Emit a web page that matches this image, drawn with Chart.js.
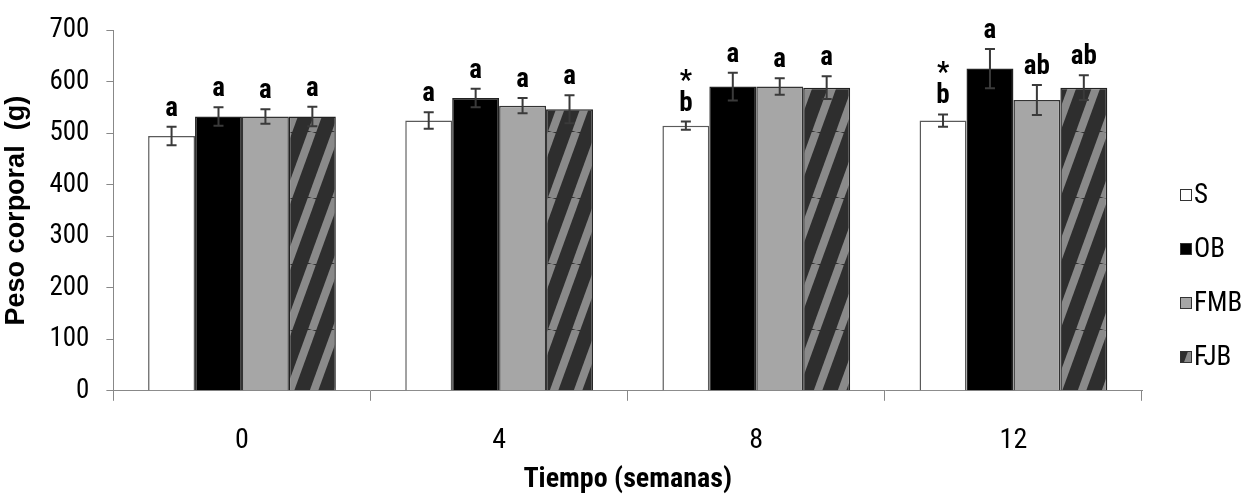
<!DOCTYPE html>
<html>
<head>
<meta charset="utf-8">
<script src="https://cdn.jsdelivr.net/npm/chart.js@4.4.1/dist/chart.umd.min.js"></script>
<style>
html, body { margin: 0; padding: 0; background: #fff; }
</style>
</head>
<body>
<canvas id="barChart" width="1251" height="497"></canvas>
<script>
// semanas
const weeks = ['0', '4', '8', '12'];
const groups = ['S', 'OB', 'FMB', 'FJB'];

// peso corporal medio (g)
const valS   = [495, 525, 515, 525];
const valOB  = [533, 569, 591, 626];
const valFMB = [533, 554, 591, 565];
const valFJB = [533, 547, 589, 589];

// error estandar
const errS   = [18, 16, 8, 12];
const errOB  = [18, 18, 27, 38];
const errFMB = [14, 15, 16, 29];
const errFJB = [19, 27, 22, 24];

// letras de significancia
const letS   = ['a', 'a', 'b', 'b'];
const starS  = ['', '', '*', '*'];
const letOB  = ['a', 'a', 'a', 'a'];
const letFMB = ['a', 'a', 'a', 'ab'];
const letFJB = ['a', 'a', 'a', 'ab'];

const yTicks = [0, 100, 200, 300, 400, 500, 600, 700];

const narrow = "'Roboto Condensed', 'Liberation Sans Narrow', sans-serif";
const wide = "'Liberation Sans', Arial, sans-serif";

// rayas diagonales para FJB
function stripes() {
    const c = document.createElement('canvas');
    c.width = 24; c.height = 66;
    const g = c.getContext('2d');
    g.fillStyle = '#2e2e2e';
    g.fillRect(0, 0, 24, 66);
    g.strokeStyle = '#8a8a8a';
    g.lineWidth = 8;
    for (let k = -1; k <= 1; k++) {
        g.beginPath();
        g.moveTo(k * 24, 66);
        g.lineTo(k * 24 + 24, 0);
        g.stroke();
    }
    return document.getElementById('barChart').getContext('2d').createPattern(c, 'repeat');
}
const fjbFill = stripes();

const errs = [errS, errOB, errFMB, errFJB];
const lets = [letS, letOB, letFMB, letFJB];
const stars = [starS, [], [], []];

const errorBars = {
    id: 'errorBars',
    afterDatasetsDraw(chart) {
        const ctx = chart.ctx;
        const y = chart.scales.y;
        ctx.save();
        chart.data.datasets.forEach((ds, i) => {
            const meta = chart.getDatasetMeta(i);
            meta.data.forEach((bar, j) => {
                const v = ds.data[j];
                const top = y.getPixelForValue(v + errs[i][j]);
                const bot = y.getPixelForValue(v - errs[i][j]);
                ctx.strokeStyle = '#3a3a3a';
                ctx.lineWidth = 2;
                ctx.beginPath();
                ctx.moveTo(bar.x, top); ctx.lineTo(bar.x, bot);
                ctx.moveTo(bar.x - 5, top); ctx.lineTo(bar.x + 5, top);
                ctx.moveTo(bar.x - 5, bot); ctx.lineTo(bar.x + 5, bot);
                ctx.stroke();
                ctx.fillStyle = '#000';
                ctx.font = 'bold 27px ' + narrow;
                ctx.textAlign = 'center';
                ctx.textBaseline = 'alphabetic';
                ctx.fillText(lets[i][j], bar.x, top - 11);
                if (stars[i][j]) {
                    ctx.fillText(stars[i][j], bar.x, top - 33);
                }
            });
        });
        ctx.restore();
    }
};

const sideLegend = {
    id: 'sideLegend',
    afterDraw(chart) {
        const ctx = chart.ctx;
        ctx.save();
        chart.data.datasets.forEach((ds, i) => {
            const cy = 195 + i * 54;
            ctx.fillStyle = ds.backgroundColor;
            ctx.fillRect(1180, cy - 6, 12, 12);
            ctx.strokeStyle = '#333';
            ctx.lineWidth = 1;
            ctx.strokeRect(1180.5, cy - 5.5, 11, 11);
            ctx.fillStyle = '#000';
            ctx.font = '27px ' + narrow;
            ctx.textAlign = 'left';
            ctx.textBaseline = 'middle';
            ctx.fillText(ds.label, 1194, cy + 1);
        });
        ctx.restore();
    }
};

const data = {
    labels: weeks,
    datasets: [
        { label: groups[0], data: valS, backgroundColor: '#ffffff', borderColor: '#5a5a5a' },
        { label: groups[1], data: valOB, backgroundColor: '#000000', borderColor: '#222222' },
        { label: groups[2], data: valFMB, backgroundColor: '#a6a6a6', borderColor: '#333333' },
        { label: groups[3], data: valFJB, backgroundColor: fjbFill, borderColor: '#222222' }
    ].map(d => Object.assign(d, {
        borderWidth: 1.5,
        categoryPercentage: 0.73,
        barPercentage: 1.0
    }))
};

const config = {
    type: 'bar',
    data: data,
    options: {
        responsive: false,
        animation: false,
        layout: { padding: { top: 8, right: 109, left: 0, bottom: 0 } },
        plugins: {
            legend: { display: false },
            tooltip: { enabled: false }
        },
        scales: {
            x: {
                grid: { drawOnChartArea: false, tickLength: 10, color: '#888', offset: true },
                border: { color: '#888', width: 1 },
                ticks: { color: '#000', font: { family: narrow, size: 28 }, padding: 23 },
                title: {
                    display: true, text: 'Tiempo (semanas)', color: '#000',
                    font: { family: narrow, size: 28, weight: 'bold' }, padding: { top: -17, bottom: 0 }
                }
            },
            y: {
                min: 0, max: 700,
                afterBuildTicks: axis => { axis.ticks = yTicks.map(v => ({ value: v })); },
                grid: { drawOnChartArea: false, tickLength: 7, color: '#888' },
                border: { color: '#888', width: 1 },
                ticks: { color: '#000', font: { family: narrow, size: 27, lineHeight: 1 }, padding: 17 },
                title: {
                    display: true, text: 'Peso corporal  (g)', color: '#000',
                    font: { family: wide, size: 27, weight: 'bold' }, padding: { top: 0, bottom: 0 }
                }
            }
        }
    },
    plugins: [errorBars, sideLegend]
};

const barChart = new Chart(document.getElementById('barChart').getContext('2d'), config);
</script>
</body>
</html>
